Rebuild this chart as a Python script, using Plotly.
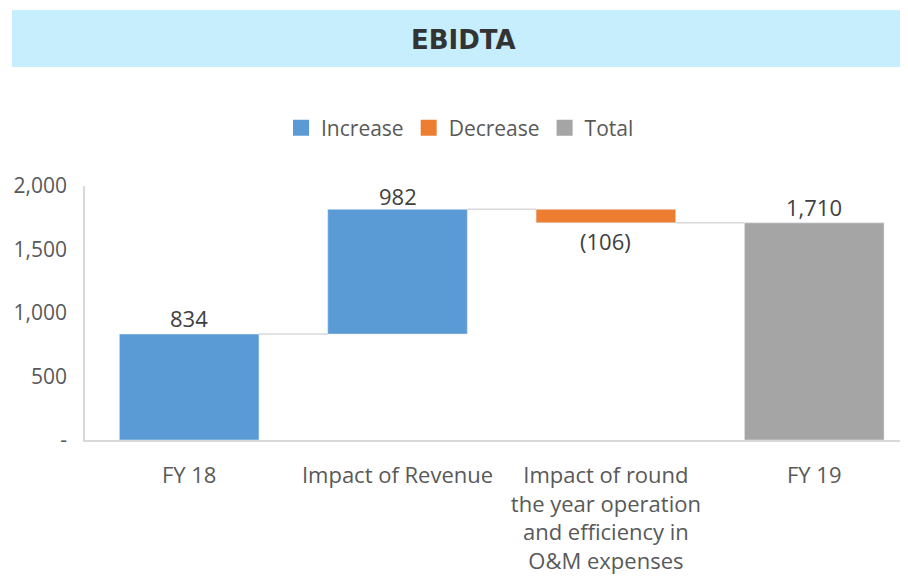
import plotly.graph_objects as go

categories = ["FY 18", "Impact of Revenue",
              "Impact of round<br>the year operation<br>and efficiency in<br>O&M expenses", "FY 19"]
fy18 = 834
revenue_impact = 982
om_impact = -106
fy19 = 1710
ytick_vals = [0, 500, 1000, 1500, 2000]
ytick_text = ["-", "500", "1,000", "1,500", "2,000"]
legend_names = ["Increase", "Decrease", "Total"]

BLUE = "#5B9BD5"
ORANGE = "#ED7D31"
GRAY = "#A5A5A5"
FONT = "Open Sans"
BW = 0.67

after_rev = fy18 + revenue_impact
after_om = after_rev + om_impact

fig = go.Figure()
fig.add_trace(go.Bar(name="Increase", x=[categories[0], categories[1]],
                     y=[fy18, revenue_impact], base=[0, fy18],
                     marker_color=BLUE, width=BW, showlegend=False))
fig.add_trace(go.Bar(name="Decrease", x=[categories[2]], y=[-om_impact], base=[after_om],
                     marker_color=ORANGE, width=BW, showlegend=False))
fig.add_trace(go.Bar(name="Total", x=[categories[3]], y=[fy19], base=[0],
                     marker_color=GRAY, width=BW, showlegend=False))
# legend entries (square swatches)
for name, col in zip(legend_names, [BLUE, ORANGE, GRAY]):
    fig.add_trace(go.Scatter(name=name, x=[None], y=[None], mode="markers",
                             marker=dict(symbol="square", size=18, color=col)))

# connectors
levels = [fy18, after_rev, after_om]
for i, lv in enumerate(levels):
    fig.add_shape(type="line", xref="x", yref="y", x0=i + BW / 2, x1=i + 1 - BW / 2,
                  y0=lv, y1=lv, line=dict(color="#D9D9D9", width=1.5), layer="below")

# data labels
lab_font = dict(family=FONT, size=22, color="#404040")
fig.add_annotation(x=categories[0], y=fy18, text=f"{fy18:,}", showarrow=False,
                   yanchor="bottom", yshift=-1, font=lab_font)
fig.add_annotation(x=categories[1], y=after_rev, text=f"{revenue_impact:,}", showarrow=False,
                   yanchor="bottom", yshift=-4, font=lab_font)
fig.add_annotation(x=categories[2], y=after_om, text=f"({-om_impact:,})", showarrow=False,
                   yanchor="top", yshift=-1, font=lab_font)
fig.add_annotation(x=categories[3], y=fy19, text=f"{fy19:,}", showarrow=False,
                   yanchor="bottom", yshift=-1, font=lab_font)

# layout geometry (page coords minus 8px body margin)
OFF = 8
W, H = 908 - OFF, 587 - OFF
L = 85 - OFF
T = 186 - OFF
B = H - (440 - OFF)
R = 0
ph = H - T - B
pw = W - L - R

def py(p):
    return (H - B - (p - OFF)) / ph

def px(p):
    return ((p - OFF) - L) / pw

fig.add_shape(type="rect", xref="paper", yref="paper", x0=px(12), x1=px(930),
              y0=py(67), y1=py(10), fillcolor="#C6EEFD", line=dict(width=0))
fig.add_annotation(xref="paper", yref="paper", x=px(463), y=py(40), text="<b>EBIDTA</b>",
                   xanchor="center", yanchor="middle",
                   showarrow=False, font=dict(family="DejaVu Sans", size=26, color="#333333"))

fig.update_layout(
    width=W, height=H,
    margin=dict(l=L, r=R, t=T, b=B, autoexpand=False),
    paper_bgcolor="white", plot_bgcolor="white",
    barmode="overlay",
    showlegend=True,
    legend=dict(orientation="h", xref="paper", yref="paper", x=px(460), xanchor="center",
                y=py(128), yanchor="middle", font=dict(family=FONT, size=21, color="#595959"),
                itemwidth=30, itemsizing="trace", traceorder="normal"),
    font=dict(family=FONT, color="#595959"),
)
fig.update_xaxes(range=[-0.5, 3.45], showline=True, linecolor="#D9D9D9", linewidth=1.5,
                 tickfont=dict(family=FONT, size=22, color="#595959"), showgrid=False,
                 ticks="", ticklabelstandoff=15, automargin=False)
fig.update_yaxes(range=[0, 2000], tickvals=ytick_vals, ticktext=ytick_text,
                 showline=True, linecolor="#D9D9D9", linewidth=1.5, showgrid=False,
                 zeroline=False, tickfont=dict(family=FONT, size=21, color="#595959"),
                 ticklabelstandoff=12, automargin=False)

fig.write_html("out.html")
